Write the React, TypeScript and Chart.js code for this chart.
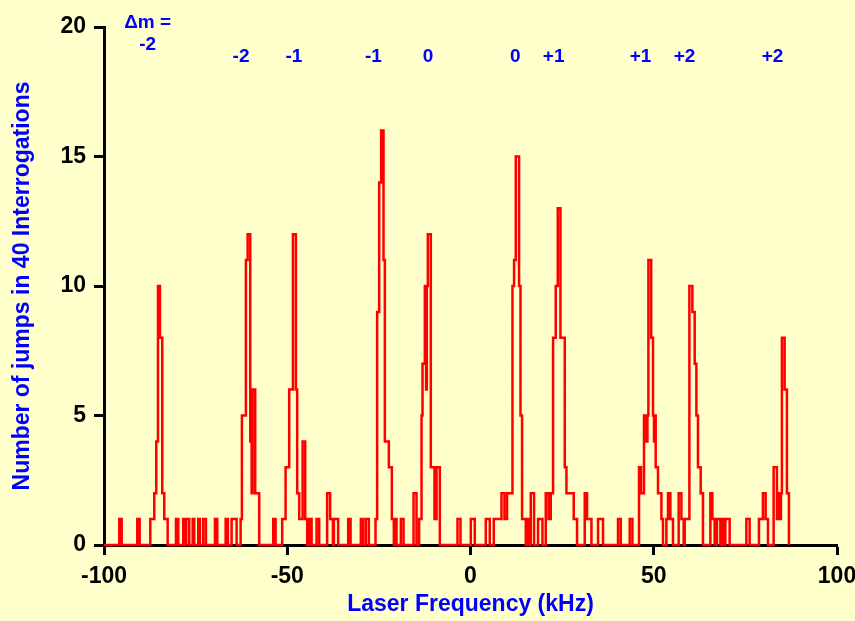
import React, { useEffect, useRef } from 'react';
import { Chart, registerables } from 'chart.js';

Chart.register(...registerables);

const X_TICKS = [-100, -50, 0, 50, 100];
const Y_TICKS = [0, 5, 10, 15, 20];
const X_TITLE = 'Laser Frequency (kHz)';
const Y_TITLE = 'Number of jumps in 40 Interrogations';

// Histogram steps: [frequency (kHz) where the step starts, number of jumps]
const STEPS_FAR_LEFT: [number, number][] = [
  [-100, 0],
  [-95.83, 1], [-95.17, 0],
  [-90.92, 1], [-90.27, 0],
  [-87.37, 1], [-86.28, 2], [-85.74, 4], [-85.27, 10], [-84.73, 8], [-84.1, 2], [-83.56, 1], [-82.63, 0],
  [-80.37, 1], [-79.74, 0],
  [-78.37, 1], [-77.83, 0], [-77.56, 1], [-76.74, 0],
  [-75.81, 1], [-75.37, 0],
  [-74.28, 1], [-73.82, 0],
  [-72.92, 1], [-72.19, 0],
  [-69.73, 1], [-69.1, 0],
  [-66.81, 1], [-66.19, 0],
  [-65.18, 1], [-63.81, 0],
  [-62.72, 1], [-62.37, 5], [-61.28, 11], [-60.81, 12], [-60.1, 4], [-59.72, 2], [-59.45, 6], [-58.74, 2], [-57.65, 0],
];

const STEPS_LEFT: [number, number][] = [
  [-53.83, 1], [-53.18, 0],
  [-51.38, 1], [-50.45, 3], [-49.47, 6], [-48.45, 12], [-47.64, 6], [-47.29, 2], [-46.74, 1], [-45.81, 4], [-45.1, 1],
  [-44.56, 0], [-44.37, 1], [-44.01, 0], [-43.82, 1], [-43.36, 0],
  [-42.0, 1], [-41.29, 0],
  [-39.11, 2], [-38.29, 1], [-37.55, 0], [-37.28, 1], [-36.11, 0],
  [-33.38, 1], [-32.72, 0],
  [-29.92, 1], [-29.29, 0],
  [-28.55, 1], [-27.73, 0],
  [-25.91, 1], [-25.47, 9], [-24.92, 14], [-24.38, 16], [-23.73, 11], [-23.37, 4], [-22.28, 3], [-21.46, 1],
  [-20.92, 0], [-20.73, 1], [-20.18, 0],
  [-19.01, 1], [-18.27, 0],
];

const STEPS_CENTER: [number, number][] = [
  [-15.54, 2], [-14.73, 0],
  [-14.02, 1], [-13.36, 5], [-13.09, 7], [-12.46, 10], [-12.11, 6], [-11.92, 10], [-11.64, 12], [-10.83, 3],
  [-9.82, 1], [-9.27, 3], [-8.37, 0],
  [-3.55, 1], [-2.73, 0],
  [0.08, 1], [1.17, 0],
  [4.17, 1], [5.26, 0],
  [6.35, 1], [8.45, 2], [9.27, 1], [9.98, 2], [11.45, 10], [11.89, 11], [12.35, 15], [13.25, 10], [13.64, 5],
  [14.07, 1], [15.08, 0], [15.35, 1], [15.82, 0],
  [16.44, 2], [17.34, 0],
  [18.43, 1], [19.63, 0],
  [20.53, 2], [21.27, 1], [21.9, 2], [22.53, 8], [23.26, 10], [23.81, 13], [24.54, 8], [25.72, 3], [26.18, 2],
  [28.17, 1], [29.07, 0],
];

const STEPS_RIGHT: [number, number][] = [
  [31.17, 2], [31.8, 1], [33.0, 0],
  [34.8, 1], [36.16, 0],
  [40.25, 1], [40.99, 0],
  [43.44, 1], [44.18, 0],
  [45.98, 3], [46.52, 2], [47.34, 5], [48.0, 4], [48.27, 5], [48.54, 11], [49.3, 8], [49.8, 5], [50.07, 4],
  [50.3, 5], [50.53, 3], [51.16, 2], [52.09, 1], [52.52, 0],
  [53.45, 1], [53.89, 2], [54.54, 1], [55.25, 0],
  [56.8, 2], [57.54, 1], [58.17, 0], [58.44, 1],
];

const STEPS_FAR_RIGHT: [number, number][] = [
  [59.72, 10], [60.54, 9], [61.17, 7], [61.63, 5], [62.07, 3], [62.81, 2], [63.43, 0],
  [65.45, 2], [65.99, 1], [66.62, 0],
  [67.25, 1], [68.18, 0],
  [68.72, 1], [69.35, 0], [69.54, 1], [70.71, 0],
  [75.27, 1], [76.17, 0],
  [78.7, 1], [79.79, 2], [80.53, 1], [81.16, 0],
  [82.71, 3], [83.61, 1], [83.99, 2], [84.35, 1], [84.7, 2], [84.97, 8], [85.71, 6], [86.34, 2], [86.88, 0],
];

// Δm annotations
const DM_HEADER = ['\u0394m =', '-2'];
const DM_HEADER_KHZ = -88.1;
const DM_HEADER_Y = [20.15, 19.3];
const DM_LABELS = ['-2', '-1', '-1', '0', '0', '+1', '+1', '+2', '+2'];
const DM_KHZ = [-62.6, -48.2, -26.5, -11.6, 12.2, 22.7, 46.4, 58.4, 82.4];
const DM_ROW_Y = 18.84;

const FONT = "'Liberation Sans', Arial, Helvetica, sans-serif";
const BLUE = '#0000FF';
const BG = '#FFFFCC';

const annotationPlugin = {
  id: 'dmLabels',
  afterDraw(chart: any) {
    const { ctx, scales } = chart;
    const xs = scales.x;
    const ys = scales.y;
    ctx.save();
    ctx.fillStyle = BLUE;
    ctx.font = `bold 19px ${FONT}`;
    ctx.textAlign = 'center';
    ctx.textBaseline = 'middle';
    DM_HEADER.forEach((t, i) => {
      ctx.fillText(t, xs.getPixelForValue(DM_HEADER_KHZ), ys.getPixelForValue(DM_HEADER_Y[i]));
    });
    DM_LABELS.forEach((t, i) => {
      ctx.fillText(t, xs.getPixelForValue(DM_KHZ[i]), ys.getPixelForValue(DM_ROW_Y));
    });
    ctx.restore();
  },
};

export default function App() {
  const ref = useRef<HTMLCanvasElement | null>(null);

  useEffect(() => {
    if (!ref.current) return;
    const points = [
      ...STEPS_FAR_LEFT,
      ...STEPS_LEFT,
      ...STEPS_CENTER,
      ...STEPS_RIGHT,
      ...STEPS_FAR_RIGHT,
    ].map(([x, y]) => ({ x, y }));

    const chart = new Chart(ref.current, {
      type: 'line',
      data: {
        datasets: [
          {
            data: points,
            borderColor: '#FF0000',
            borderWidth: 2.5,
            stepped: true,
            pointRadius: 0,
            fill: false,
            clip: false as any,
          },
        ],
      },
      options: {
        responsive: false,
        animation: false,
        layout: { padding: { top: 27, right: 18, left: 0, bottom: 0 } },
        plugins: { legend: { display: false }, tooltip: { enabled: false } },
        scales: {
          x: {
            type: 'linear',
            min: -100,
            max: 100,
            afterBuildTicks: (s: any) => {
              s.ticks = X_TICKS.map((v) => ({ value: v }));
            },
            afterFit: (s: any) => {
              s.height = 76;
              s.paddingLeft = 0;
              s.paddingRight = 0;
            },
            border: { display: true, color: '#000', width: 3 },
            grid: {
              display: true,
              drawOnChartArea: false,
              drawTicks: true,
              tickLength: 10,
              tickWidth: 3,
              tickColor: '#000',
            },
            ticks: {
              color: '#000',
              font: { family: FONT, size: 23, weight: 'bold' },
              padding: 8,
              maxRotation: 0,
              autoSkip: false,
            },
            title: {
              display: true,
              text: X_TITLE,
              color: BLUE,
              font: { family: FONT, size: 23, weight: 'bold' },
              padding: { top: 0, bottom: 3 },
            },
          },
          y: {
            type: 'linear',
            min: 0,
            max: 20,
            afterBuildTicks: (s: any) => {
              s.ticks = Y_TICKS.map((v) => ({ value: v }));
            },
            afterFit: (s: any) => {
              s.width = 104;
              s.paddingTop = 0;
              s.paddingBottom = 0;
            },
            border: { display: true, color: '#000', width: 3 },
            grid: {
              display: true,
              drawOnChartArea: false,
              drawTicks: true,
              tickLength: 10,
              tickWidth: 3,
              tickColor: '#000',
            },
            ticks: {
              color: '#000',
              font: { family: FONT, size: 23, weight: 'bold' },
              padding: 8,
              autoSkip: false,
            },
            title: {
              display: true,
              text: Y_TITLE,
              color: BLUE,
              font: { family: FONT, size: 23, weight: 'bold' },
              padding: { top: 9, bottom: 0 },
            },
          },
        },
      } as any,
      plugins: [annotationPlugin],
    });
    return () => chart.destroy();
  }, []);

  return (
    <div
      style={{
        position: 'fixed',
        top: 0,
        left: 0,
        width: 855,
        height: 621,
        background: BG,
      }}
    >
      <canvas ref={ref} width={855} height={621} style={{ display: 'block' }} />
    </div>
  );
}
